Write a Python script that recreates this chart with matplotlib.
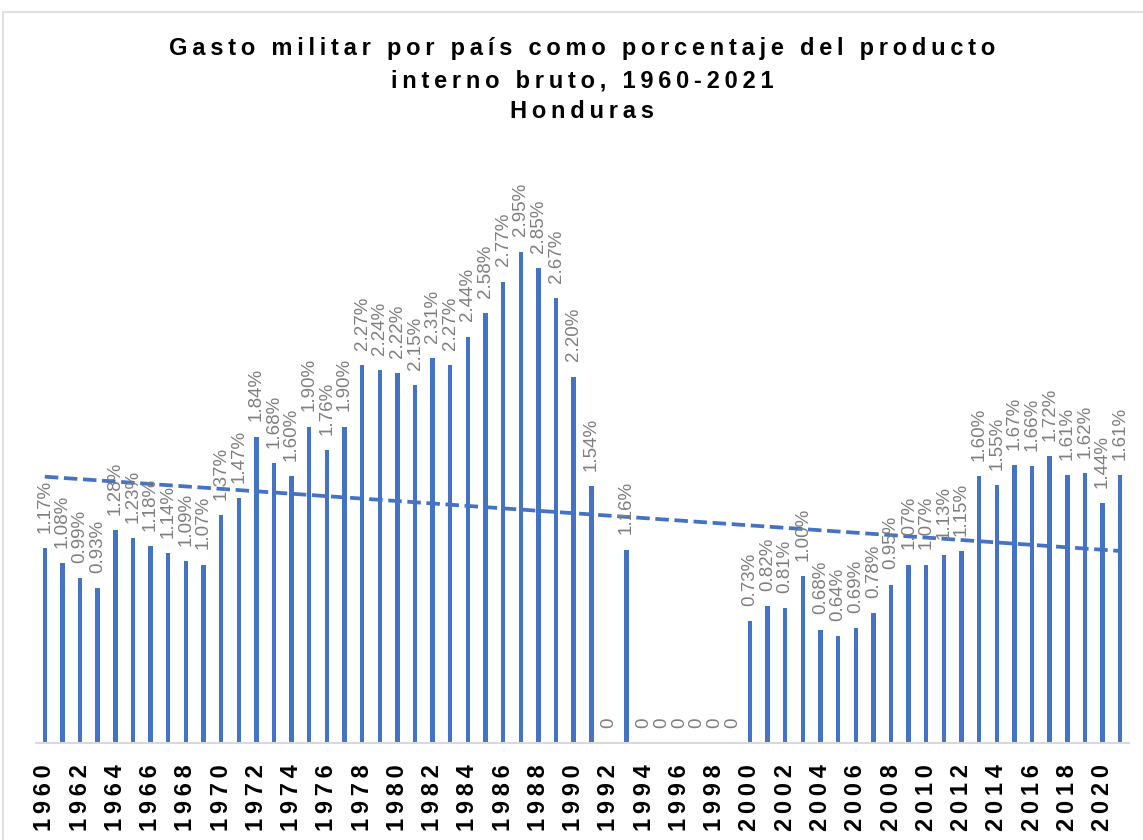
import matplotlib
matplotlib.use('Agg')
import matplotlib.pyplot as plt
import numpy as np
from matplotlib.patches import Rectangle

plt.rcParams['font.family'] = ['Liberation Sans', 'DejaVu Sans']

# datos
years = list(range(1960, 2022))
gasto = [1.17, 1.08, 0.99, 0.93, 1.28, 1.23, 1.18, 1.14, 1.09, 1.07,
         1.37, 1.47, 1.84, 1.68, 1.60, 1.90, 1.76, 1.90, 2.27, 2.24,
         2.22, 2.15, 2.31, 2.27, 2.44, 2.58, 2.77, 2.95, 2.85, 2.67,
         2.20, 1.54, 0, 1.16, 0, 0, 0, 0, 0, 0,
         0.73, 0.82, 0.81, 1.00, 0.68, 0.64, 0.69, 0.78, 0.95, 1.07,
         1.07, 1.13, 1.15, 1.60, 1.55, 1.67, 1.66, 1.72, 1.61, 1.62,
         1.44, 1.61]
tick_years = list(range(1960, 2021, 2))

title = ['Gasto militar por país como porcentaje del producto',
         'interno bruto, 1960-2021',
         'Honduras']


def spaced(s, sep='\u2009'):
    return sep.join(s)


azul = '#4472C4'
gris = '#7F7F7F'

fig = plt.figure(figsize=(11.43, 8.4), dpi=100)
# borde del area del grafico
fig.patches.append(Rectangle((3/1143, -0.1), 1.2, 1.1 - 12/840, transform=fig.transFigure,
                             fill=False, edgecolor='#D9D9D9', linewidth=1.2))

ax = fig.add_axes([36/1143, 97/840, 1093/1143, 583/840])
ax.bar(years, gasto, width=0.25, color=azul, zorder=2)

# linea de tendencia lineal
coef = np.polyfit(years, gasto, 1)
xs = np.array([years[0], years[-1]])
ax.plot(xs, np.polyval(coef, xs), color=azul, linewidth=2.7, linestyle=(0, (3.6, 1.5)), zorder=3)

# etiquetas de datos
for x, v in zip(years, gasto):
    txt = '0' if v == 0 else f'{v:.2f}%'
    ax.annotate(txt, (x, v), xytext=(0, 11), textcoords='offset points',
                rotation=90, ha='center', va='bottom', fontsize=13.5, color=gris, zorder=4)

ax.set_xlim(1959.5, 2021.5)
ax.set_ylim(0, 3.5)
ax.set_yticks([])
ax.set_xticks(tick_years)
ax.set_xticklabels([spaced(str(y)) for y in tick_years], rotation=90,
                   fontsize=17, fontweight='bold', va='top')
ax.tick_params(axis='x', length=0, pad=15)
for s in ['top', 'right', 'left']:
    ax.spines[s].set_visible(False)
ax.spines['bottom'].set_color('#D9D9D9')
ax.spines['bottom'].set_linewidth(1.5)

for txt, y in zip(title, [48, 81, 112]):
    fig.text(582/1143, 1 - y/840, spaced(txt), ha='center', va='center',
             fontsize=17, fontweight='bold', color='black')

fig.savefig('out.png', dpi=100, facecolor='white')
